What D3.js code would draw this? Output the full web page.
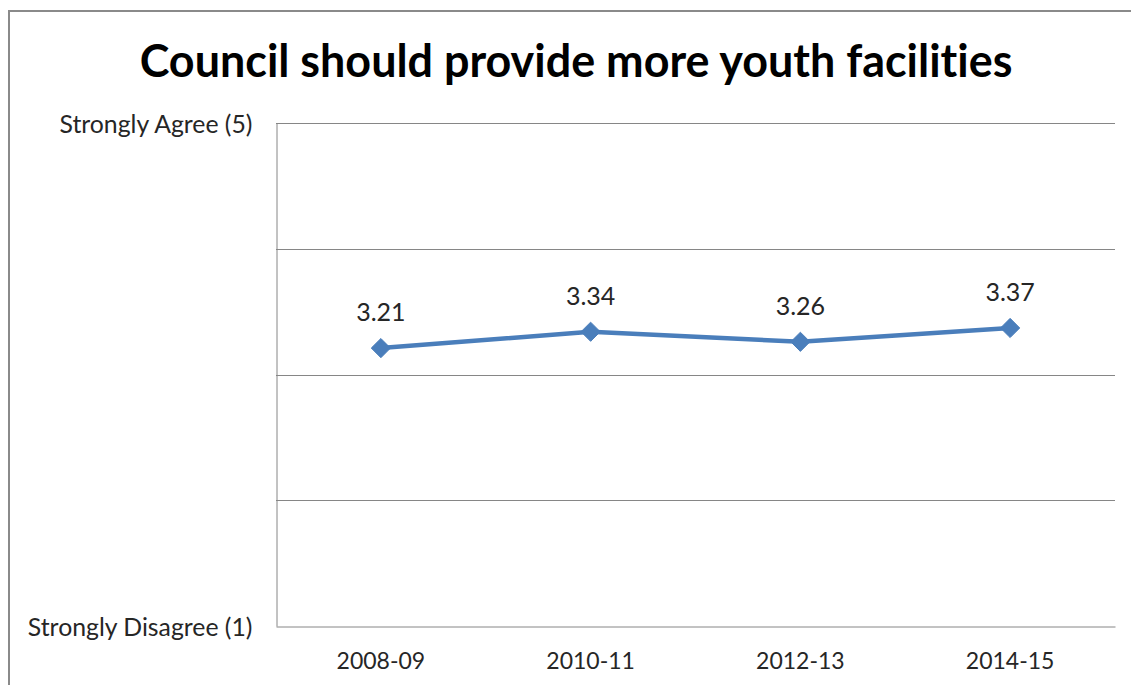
<!DOCTYPE html>
<html>
<head>
<meta charset="utf-8">
<script src="https://cdn.jsdelivr.net/npm/d3@7"></script>
<style>
  html, body { margin: 0; padding: 0; background: #fff; }
  svg text { font-family: Lato, "Open Sans", sans-serif; font-variant-ligatures: none; font-feature-settings: "liga" 0; }
</style>
</head>
<body>
<svg id="chart" width="1131" height="685"></svg>
<script>
// Survey results: mean agreement score per period
const periods = ["2008-09", "2010-11", "2012-13", "2014-15"];
const scores = [3.21, 3.34, 3.26, 3.37];
const gridValues = [1, 2, 3, 4, 5];
const tickLabels = { 5: "Strongly Agree (5)", 1: "Strongly Disagree (1)" };
const title = "Council should provide more youth facilities";

const svg = d3.select("#chart");
const W = 1131, H = 685;
const plot = { left: 276, right: 1115, top: 123, bottom: 626 };

// fit a text element to a given width by scaling its font size
function fitWidth(sel, target) {
  const node = sel.node();
  const fs = parseFloat(sel.attr("font-size"));
  const w = node.getComputedTextLength();
  sel.attr("font-size", (fs * target / w).toFixed(2));
}

// outer chart border
svg.append("rect")
  .attr("x", 9).attr("y", 11)
  .attr("width", W).attr("height", H)
  .attr("fill", "#fff")
  .attr("stroke", "#8a8a8a").attr("stroke-width", 2);

const x = d3.scaleBand().domain(periods).range([plot.left, plot.right]);
const y = d3.scaleLinear().domain([1, 5]).range([plot.bottom, plot.top]);

// title
const t = svg.append("text")
  .attr("x", 576).attr("y", 77)
  .attr("text-anchor", "middle")
  .attr("font-size", 40).attr("font-weight", "bold")
  .attr("fill", "#000")
  .text(title);
fitWidth(t, 873);

// horizontal gridlines
svg.append("g").selectAll("line")
  .data(gridValues.filter(v => v > 1))
  .join("line")
  .attr("x1", plot.left).attr("x2", plot.right)
  .attr("y1", d => Math.round(y(d)) + 0.5).attr("y2", d => Math.round(y(d)) + 0.5)
  .attr("stroke", "#868686").attr("stroke-width", 1);

// y axis with only the end labels
const yAxis = d3.axisLeft(y)
  .tickValues([1, 5])
  .tickSize(0)
  .tickPadding(24)
  .tickFormat(d => tickLabels[d]);
const gy = svg.append("g")
  .attr("transform", `translate(${plot.left + 0.5},0)`)
  .call(yAxis);
gy.select(".domain").attr("stroke", "#868686");
gy.selectAll("text")
  .attr("font-size", 24.8).attr("fill", "#262626")
  .attr("dy", "0.4em")
  .attr("font-family", "Lato, 'Open Sans', sans-serif");

// x axis
const xAxis = d3.axisBottom(x).tickSize(0).tickPadding(26);
const gx = svg.append("g")
  .attr("transform", `translate(0,${plot.bottom + 0.5})`)
  .call(xAxis);
gx.select(".domain").attr("stroke", "#868686");
gx.selectAll("text")
  .attr("font-size", 23).attr("fill", "#262626")
  .attr("font-family", "Lato, 'Open Sans', sans-serif");

const cx = d => x(d) + x.bandwidth() / 2;
const data = periods.map((p, i) => ({ p, v: scores[i] }));

// series line
svg.append("path")
  .datum(data)
  .attr("fill", "none")
  .attr("stroke", "#4a7ebb")
  .attr("stroke-width", 4.5)
  .attr("stroke-linejoin", "round")
  .attr("d", d3.line().x(d => cx(d.p)).y(d => y(d.v)));

// diamond markers
svg.append("g").selectAll("path")
  .data(data)
  .join("path")
  .attr("transform", d => `translate(${cx(d.p)},${y(d.v)})`)
  .attr("d", d3.symbol(d3.symbolDiamond2, 235))
  .attr("fill", "#4a7ebb")
  .attr("stroke", "#4a7ebb").attr("stroke-width", 1);

// value labels
svg.append("g").selectAll("text")
  .data(data)
  .join("text")
  .attr("x", d => cx(d.p))
  .attr("y", d => y(d.v) - 27)
  .attr("text-anchor", "middle")
  .attr("font-size", 25).attr("fill", "#262626")
  .text(d => d.v.toFixed(2));
</script>
</body>
</html>
